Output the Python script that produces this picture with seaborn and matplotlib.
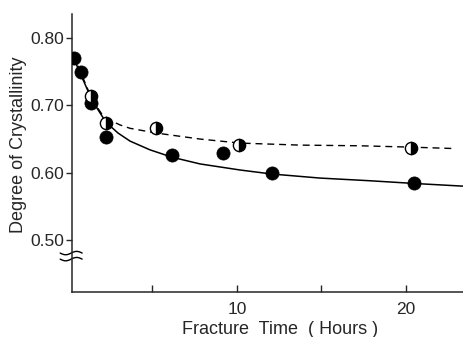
import numpy as np
import pandas as pd
import matplotlib
matplotlib.use("Agg")
import matplotlib.pyplot as plt
import seaborn as sns

# Measured points: solid circles and half-filled circles
filled_hours = [0.37, 0.81, 1.38, 2.27, 6.15, 9.2, 12.1, 20.5]
filled_cryst = [0.770, 0.749, 0.703, 0.653, 0.627, 0.630, 0.600, 0.585]

half_hours = [1.35, 2.27, 5.2, 10.13, 20.3]
half_cryst = [0.714, 0.674, 0.666, 0.641, 0.637]

# Fitted curves
solid_hours = [0.31, 0.60, 0.96, 1.31, 1.73, 2.26, 2.97, 3.68, 4.86, 6.17,
               7.83, 10.19, 12.08, 14.92, 17.88, 20.48, 23.38]
solid_cryst = [0.775, 0.755, 0.735, 0.715, 0.696, 0.675, 0.659, 0.647, 0.634,
               0.623, 0.613, 0.604, 0.598, 0.592, 0.588, 0.584, 0.580]

dashed_hours = [0.31, 0.72, 1.20, 1.61, 2.02, 2.50, 3.09, 3.68, 5.22, 7.83,
                10.19, 13.74, 17.28, 20.30, 22.73]
dashed_cryst = [0.775, 0.752, 0.723, 0.702, 0.687, 0.678, 0.671, 0.666, 0.659,
                0.650, 0.644, 0.641, 0.640, 0.638, 0.636]

x_ticks = [5, 10, 15, 20]
x_ticklabels = ["", "10", "", "20"]
y_ticks = [0.50, 0.60, 0.70, 0.80]
y_ticklabels = ["0.50", "0.60", "0.70", "0.80"]

sns.set_style("ticks")
plt.rcParams["font.family"] = ["Liberation Sans", "DejaVu Sans"]

fig = plt.figure(figsize=(4.63, 3.37), dpi=100)
ax = fig.add_axes([0.1555, 0.1335, 0.8445, 0.8245])

solid_df = pd.DataFrame({"h": solid_hours, "c": solid_cryst})
dashed_df = pd.DataFrame({"h": dashed_hours, "c": dashed_cryst})
sns.lineplot(data=solid_df, x="h", y="c", ax=ax, color="black", lw=1.1,
             sort=False, estimator=None)
sns.lineplot(data=dashed_df, x="h", y="c", ax=ax, color="black", lw=1.0,
             sort=False, estimator=None, dashes=False)
ax.lines[-1].set_linestyle((0, (5, 3.5)))

filled_df = pd.DataFrame({"h": filled_hours, "c": filled_cryst})
sns.scatterplot(data=filled_df, x="h", y="c", ax=ax, color="black", s=90,
                edgecolor="black", linewidth=0.5, zorder=3)

ax.plot(half_hours, half_cryst, ls="none", marker="o", ms=8.8,
        fillstyle="right", markerfacecolor="black",
        markerfacecoloralt="white", markeredgecolor="black",
        markeredgewidth=1.0, zorder=4)

ax.set_xlim(0.25, 23.38)
ax.set_ylim(0.4226, 0.8357)

ax.set_xticks(x_ticks)
ax.set_xticklabels(x_ticklabels)
ax.set_yticks(y_ticks)
ax.set_yticklabels(y_ticklabels)

ax.tick_params(axis="x", direction="in", length=5, width=1.0, pad=7,
               labelsize=12.5)
ax.tick_params(axis="y", direction="out", length=4.5, width=1.0, pad=1,
               labelsize=12.5)

sns.despine(ax=ax)
for side in ("left", "bottom"):
    ax.spines[side].set_linewidth(1.1)

ax.set_xlabel("Fracture  Time  ( Hours )", fontsize=13)
ax.set_ylabel("Degree of Crystallinity", fontsize=13)
ax.xaxis.set_label_coords(0.532, -0.105)
ax.yaxis.set_label_coords(-0.115, 0.53)

# Axis break marks below 0.50
t = np.linspace(0, 1, 40)
bx = -0.45 + 1.3 * t
for base in (0.4805, 0.4715):
    ax.plot(bx, base + 0.0025 * np.sin(2 * np.pi * t + np.pi),
            color="black", lw=1.0, clip_on=False)

fig.savefig("out.png", dpi=100)
